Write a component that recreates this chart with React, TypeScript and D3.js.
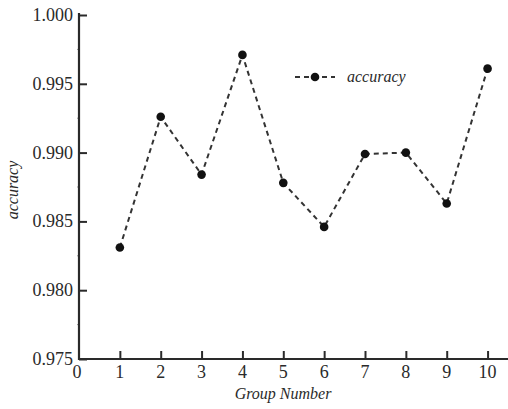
import { useEffect, useRef } from "react";
import * as d3 from "d3";

const groups = [1, 2, 3, 4, 5, 6, 7, 8, 9, 10];
const accuracy = [0.9831, 0.9926, 0.9884, 0.9971, 0.9878, 0.9846, 0.9899, 0.99, 0.9863, 0.9961];
const xTicks = [0, 1, 2, 3, 4, 5, 6, 7, 8, 9, 10];
const yTicks = [0.975, 0.98, 0.985, 0.99, 0.995, 1.0];
const yMinorTicks = [0.9775, 0.9825, 0.9875, 0.9925, 0.9975];

const W = 508;
const H = 409;
const INK = "#2a2a2a";
const SERIF = '"Times New Roman", "Liberation Serif", Times, "DejaVu Serif", serif';

export default function App() {
  const ref = useRef<SVGSVGElement>(null);

  useEffect(() => {
    if (!ref.current) return;
    const svg = d3.select(ref.current);
    svg.selectAll("*").remove();

    const x = d3.scaleLinear().domain([0, 10.5]).range([79, 508]);
    const y = d3.scaleLinear().domain([0.975, 1.0]).range([359, 15]);

    // axes (ticks point inward)
    const yAxis = svg.append("g").attr("transform", `translate(${x(0)},0)`);
    yAxis
      .call(d3.axisRight(y).tickValues(yTicks).tickSize(8).tickFormat(() => ""))
      .call((g) => g.select(".domain").remove())
      .call((g) => g.selectAll(".tick line").attr("stroke", INK).attr("stroke-width", 2));
    yAxis
      .selectAll(".minor")
      .data(yMinorTicks)
      .enter()
      .append("line")
      .attr("x1", -2)
      .attr("x2", 0)
      .attr("y1", (d) => y(d))
      .attr("y2", (d) => y(d))
      .attr("stroke", "#999")
      .attr("stroke-width", 1);

    const xAxis = svg.append("g").attr("transform", `translate(0,${y(0.975)})`);
    xAxis
      .call(d3.axisTop(x).tickValues(xTicks.slice(1)).tickSize(8).tickFormat(() => ""))
      .call((g) => g.select(".domain").remove())
      .call((g) => g.selectAll(".tick line").attr("stroke", INK).attr("stroke-width", 2));

    svg
      .append("path")
      .attr("d", `M${x(0)},13V${y(0.975)}H${W}`)
      .attr("fill", "none")
      .attr("stroke", INK)
      .attr("stroke-width", 2.2);

    // tick labels
    svg
      .selectAll(".ylab")
      .data(yTicks)
      .enter()
      .append("text")
      .attr("x", 73)
      .attr("y", (d) => y(d) + 6)
      .attr("text-anchor", "end")
      .attr("fill", INK)
      .attr("font-family", SERIF)
      .attr("font-size", 18)
      .text((d) => d3.format(".3f")(d));

    svg
      .selectAll(".xlab")
      .data(xTicks)
      .enter()
      .append("text")
      .attr("x", (d) => x(d) - (d === 0 ? 2 : 0))
      .attr("y", 378)
      .attr("text-anchor", "middle")
      .attr("fill", INK)
      .attr("font-family", SERIF)
      .attr("font-size", 18)
      .text((d) => String(d));

    // axis titles
    svg
      .append("text")
      .attr("x", 283)
      .attr("y", 399)
      .attr("text-anchor", "middle")
      .attr("fill", INK)
      .attr("font-family", SERIF)
      .attr("font-style", "italic")
      .attr("font-size", 16)
      .text("Group Number");

    svg
      .append("text")
      .attr("transform", `translate(18,190) rotate(-90)`)
      .attr("text-anchor", "middle")
      .attr("fill", INK)
      .attr("font-family", SERIF)
      .attr("font-style", "italic")
      .attr("font-size", 16)
      .text("accuracy");

    // series
    const pts = groups.map((g, i) => [g, accuracy[i]] as [number, number]);
    const line = d3
      .line<[number, number]>()
      .x((d) => x(d[0]))
      .y((d) => y(d[1]));

    svg
      .append("path")
      .attr("d", line(pts))
      .attr("fill", "none")
      .attr("stroke", "#333")
      .attr("stroke-width", 2)
      .attr("stroke-dasharray", "5,4");

    svg
      .selectAll(".pt")
      .data(pts)
      .enter()
      .append("circle")
      .attr("cx", (d) => x(d[0]))
      .attr("cy", (d) => y(d[1]))
      .attr("r", 4.3)
      .attr("fill", "#111");

    // legend
    const lg = svg.append("g").attr("transform", "translate(295,77)");
    lg.append("line")
      .attr("x1", 0)
      .attr("x2", 40)
      .attr("stroke", "#333")
      .attr("stroke-width", 2)
      .attr("stroke-dasharray", "5,4");
    lg.append("circle").attr("cx", 20).attr("r", 4.3).attr("fill", "#111");
    lg.append("text")
      .attr("x", 52)
      .attr("y", 5)
      .attr("fill", INK)
      .attr("font-family", SERIF)
      .attr("font-style", "italic")
      .attr("font-size", 16)
      .text("accuracy");
  }, []);

  return (
    <div style={{ position: "absolute", left: 0, top: 0 }}>
      <svg ref={ref} width={W} height={H} style={{ display: "block", background: "#fff" }} />
    </div>
  );
}
